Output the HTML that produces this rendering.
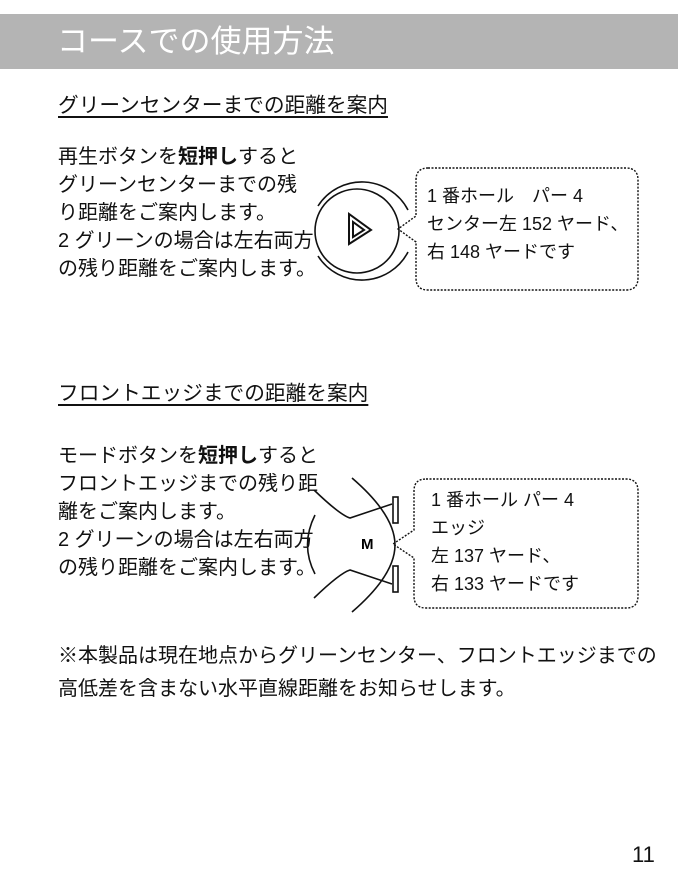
<!DOCTYPE html>
<html><head><meta charset="utf-8"><style>
body{margin:0;width:694px;height:881px;background:#fff;position:relative;font-family:"Liberation Sans","Noto Sans CJK JP",sans-serif;color:#111;overflow:hidden}
.a{position:absolute;white-space:nowrap}
.hd{position:absolute;left:0;top:14px;width:678px;height:55px;background:#b4b4b4}
.t{font-size:20px;line-height:28px}
.h{font-size:20.7px;text-decoration:underline;text-underline-offset:4px}
.bt{font-size:18px;line-height:28px}
b{font-weight:bold}
</style></head><body>
<div class="hd"></div>
<div class="a" style="left:57px;top:22px;font-size:31px;color:#fff;line-height:40px">コースでの使用方法</div>
<div class="a h" style="left:58px;top:88px">グリーンセンターまでの距離を案内</div>
<div class="a t" style="left:58px;top:143px">再生ボタンを<b>短押し</b>すると<br>グリーンセンターまでの残<br>り距離をご案内します。<br>2 グリーンの場合は左右両方<br>の残り距離をご案内します。</div>
<div class="a h" style="left:58px;top:376px">フロントエッジまでの距離を案内</div>
<div class="a t" style="left:58px;top:442px">モードボタンを<b>短押し</b>すると<br>フロントエッジまでの残り距<br>離をご案内します。<br>2 グリーンの場合は左右両方<br>の残り距離をご案内します。</div>
<svg class="a" style="left:0;top:0" width="694" height="881">
<g fill="none" stroke="#111" stroke-width="1.6">
<circle cx="357" cy="231" r="42"/>
<path d="M318 206 A52 52 0 0 1 408 210"/>
<path d="M318 256 A52 52 0 0 0 408 252"/>
<path d="M349 214 L349 244 L371 230 Z M353 222 L353 237 L364 230 Z" stroke-width="2"/>
<path d="M314 490 Q340 515 350 518 L392 504"/>
<path d="M314 598 Q340 573 350 570 L392 584"/>
<path d="M315 515 Q300 545 315 574"/>
<path d="M352 478 Q395 515 395 545 Q395 575 352 612"/>
<rect x="393" y="497" width="5" height="26"/><rect x="393" y="566" width="5" height="26"/>
</g>
<g fill="none" stroke="#111" stroke-width="1.4" stroke-dasharray="2 1.5">
<path d="M428 168 H626 Q638 168 638 180 V278 Q638 290 626 290 H428 Q416 290 416 278 V242 L398 229 L416 216 V180 Q416 168 428 168 Z"/>
<path d="M426 479 H626 Q638 479 638 491 V596 Q638 608 626 608 H426 Q414 608 414 596 V558 L393 544 L414 530 V491 Q414 479 426 479 Z"/>
</g>
<text x="361" y="549" font-size="15" font-weight="bold" font-family="Liberation Sans,sans-serif">M</text>
</svg>
<div class="a bt" style="left:427px;top:182px">1 番ホール　パー 4<br>センター左 152 ヤード、<br>右 148 ヤードです</div>
<div class="a bt" style="left:431px;top:486px">1 番ホール パー 4<br>エッジ<br>左 137 ヤード、<br>右 133 ヤードです</div>
<div class="a" style="left:58px;top:640px;font-size:20px;line-height:33px">※本製品は現在地点からグリーンセンター、フロントエッジまでの<br>高低差を含まない水平直線距離をお知らせします。</div>
<div class="a" style="left:632px;top:842px;font-size:22px">11</div>
</body></html>
